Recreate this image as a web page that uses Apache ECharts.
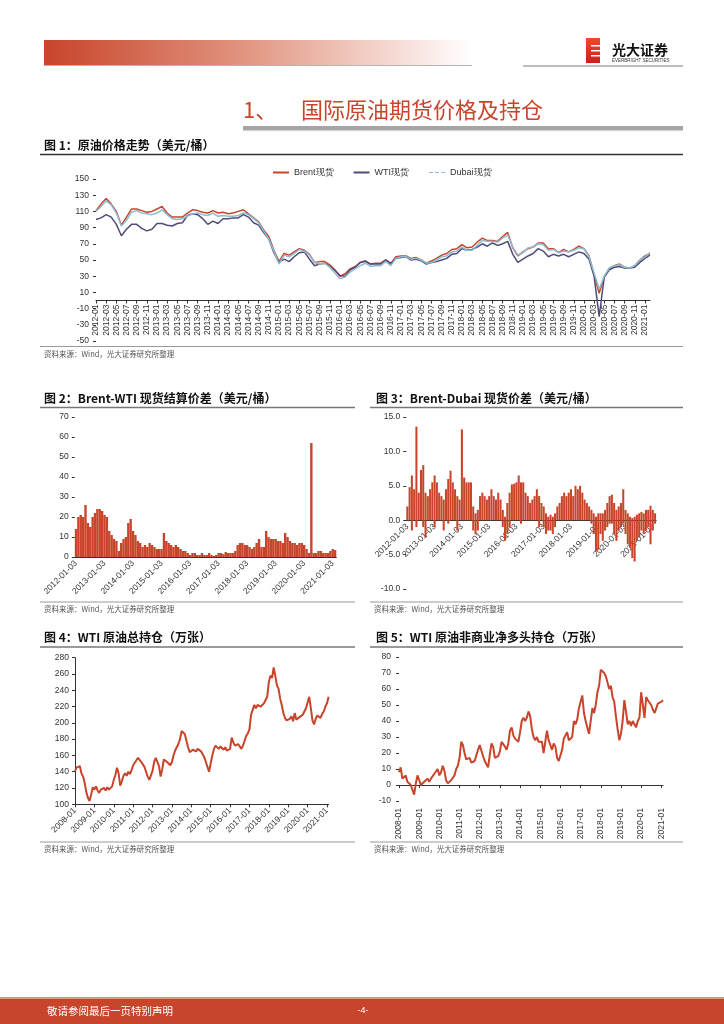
<!DOCTYPE html>
<html><head><meta charset="utf-8">
<script src="https://cdn.jsdelivr.net/npm/echarts@6/dist/echarts.min.js"></script>
<style>html,body{margin:0;padding:0;background:#fff;}#c{width:724px;height:1024px;}</style>
</head><body><div id="c"></div>
<script>
function monthRange(y0,m0,y1,m1){const r=[];let y=y0,m=m0;while(y<y1||(y===y1&&m<=m1)){r.push(y+'-'+String(m).padStart(2,'0'));m++;if(m>12){m=1;y++;}}return r;}

// ---------- Chart 1: oil prices (USD/bbl), monthly 2012-01..2021-02 ----------
const months1 = monthRange(2012,1,2021,2);
const brent = [
 111,119,126,119,110,93,103,113,113,111,109,110,
 113,116,108,103,103,103,108,112,111,109,108,111,
 108,109,107,108,110,112,107,102,97,87,79,62,
 48,58,56,60,64,62,57,47,48,48,44,38,
 30,33,39,42,47,48,45,46,46,50,45,54,
 55,55,52,53,50,46,49,52,56,58,63,64,
 69,65,66,72,77,74,74,73,79,84,65,55,
 60,64,66,71,71,64,64,59,63,60,63,67,
 64,55,32,9,29,40,43,45,41,40,43,50,
 55,58];
const wti = [
 100,102,106,103,94,80,88,94,94,89,86,88,
 95,95,93,92,95,96,105,107,106,101,94,98,
 95,101,101,102,102,106,103,96,93,84,76,59,
 47,51,48,54,59,60,51,43,45,46,42,37,
 31,30,38,41,47,49,45,45,45,50,46,52,
 53,54,50,51,49,45,47,48,50,52,57,58,
 64,62,63,66,70,67,71,68,70,73,57,47,
 51,55,58,64,61,54,57,55,57,54,57,60,
 58,51,30,-20,29,38,41,42,40,40,41,47,
 52,56];
const dubai = [
 110,116,123,118,108,92,99,109,111,108,107,106,
 108,112,106,101,100,101,104,107,108,106,105,108,
 104,105,104,104,105,108,106,101,96,86,76,61,
 45,56,54,58,63,61,56,47,45,46,41,34,
 27,29,35,39,43,46,42,43,43,48,43,52,
 54,54,51,52,50,46,47,50,54,55,60,61,
 66,62,62,68,74,73,73,72,77,81,66,56,
 59,65,66,70,69,62,63,59,61,60,62,65,
 64,54,34,14,30,40,43,44,41,40,43,50,
 54,59];

// ---------- Chart 2: Brent-WTI spread ----------
const bwPos = [
 14,20,21,20,26,17,15,20,22,24,24,23,
 21,20,13,11,9,8,3,7,9,10,17,19,
 13,11,8,7,5,6,5,7,6,5,4,4,
 4,12,8,7,6,5,6,5,4,3,3,2,
 1,2,2,1,1,2,1,1,2,1,0.5,1,
 2,2,1.5,2.5,2,2,2,3,6,7,7,6,
 6,5,4,5,7,9,5,5,13,10,9,9,
 9,8,8,7,12,10,8,7,7,6,7,7,
 6,4,2,57,2,2,3,3,2,2,2,3,
 4,3.5];
const bwNeg = [
 0,0,0,0,0,0,0,0,0,0,0,0,
 0,0,0,0,0,0,0,0,0,0,0,0,
 0,0,0,0,0,0,0,0,0,0,0,-2,
 0,0,0,0,0,0,0,0,0,0,-2,-1.5,
 -2,0,0,-0.5,-1.5,-1,0,0,0,-2,-1.5,0,
 0,0,0,0,0,0,0,0,0,0,0,0,
 0,0,0,0,0,0,0,0,0,0,0,0,
 0,0,0,0,0,0,0,0,0,0,0,0,
 0,0,0,-7,0,0,0,0,0,0,0,0,
 0,0];

// ---------- Chart 3: Brent-Dubai spread ----------
const bdPos = [
 2,4.8,6.5,4.5,13.6,4,7.3,8,4,3.5,4.5,5.5,
 6.5,5.5,4,3.5,3,4.5,6,7.2,5.5,4.5,3.5,3,
 13.2,6.2,5.5,5.5,5.5,2,1,1.5,3.5,4,3.5,3,
 3.5,4.5,3.5,3,4,3,1.5,0.5,2.5,4,5.2,5.3,
 5.5,6.5,5.5,5.5,4,3.5,2.5,3,3.5,4.5,3.5,2.5,
 2,1,0.5,0.8,0.5,1,2,2.5,3.5,4,3.5,4,
 4.5,3.5,5,4.5,5,4,3,2.5,2,1.5,1,0.5,
 1,1,1,1.5,2.5,3.5,3.7,2.5,1.5,2,2.5,4.5,
 1.5,1,0.5,0.3,0.5,0.8,1,1.2,1,1.5,1.5,2.1,
 1.5,1];
const bdNeg = [
 0,0,-1.5,0,-1,0,0,-1,-2.5,0,0,0,
 -1,0,0,0,-1.5,0,-0.5,0,0,0,-1.5,0,
 0,0,0,0,0,-1.5,-2,-1.5,0,0,0,0,
 0,0,0,0,0,0,-1,-3,-2,-1,0,0,
 0,0,-0.5,0,0,0,0,0,0,0,-1,0,
 -1,-2,-1.5,-1.5,-2,-1,0,0,0,0,0,0,
 0,0,0,0,0,0,0,0,0,-0.5,-2,-4.5,
 -4.3,-2,-3,-1.5,-1,-0.5,-0.5,-2,-3,-1.5,-1,-0.5,
 -2,-3.5,-4,-5.5,-6,-3,-2.5,-1.5,-2,-1.5,-1,-3.5,
 -1.5,-0.5];

// ---------- Chart 4: WTI total open interest (10k contracts), 2008-01..2021-02 ----------
const months2 = monthRange(2008,1,2021,2);
const wtiOI = [
 141,145,143,147,138,134,126,115,108,104,112,121,
 118,122,117,114,118,116,120,117,121,118,119,122,
 130,136,145,138,123,128,135,138,135,140,137,142,
 148,150,154,157,155,152,151,146,140,134,130,132,
 141,152,157,155,147,134,143,155,157,152,150,148,
 152,160,166,170,174,180,190,192,186,178,170,164,
 163,167,166,165,168,166,165,163,158,152,146,140,
 142,160,168,172,170,168,171,169,167,170,166,164,
 168,182,176,172,170,174,172,168,172,178,184,187,
 192,210,216,222,218,222,223,220,222,224,226,232,
 250,258,255,268,258,246,242,230,222,212,206,203,
 201,205,208,202,212,204,206,207,205,210,214,218,
 220,232,218,203,198,205,209,207,206,211,214,220,
 224,232];

// ---------- Chart 5: WTI non-commercial net long (10k contracts) ----------
const wtiNet = [
 8,11,4,3,6,2,1,0,-1,-6,1,6,
 5,0,-1,2,3,4,2,4,5,7,6,10,
 6,8,12,9,3,1,2,3,2,6,10,12,
 17,27,25,20,16,15,17,14,13,15,16,22,
 25,24,18,15,13,11,19,26,24,17,16,18,
 21,27,26,24,22,26,34,36,31,29,30,27,
 33,40,42,40,42,46,43,35,30,28,30,27,
 28,27,20,27,34,28,25,22,26,24,17,15,
 16,22,29,30,33,28,27,30,40,38,41,48,
 52,56,45,40,36,32,40,48,45,50,58,62,
 72,73,70,68,64,60,62,55,52,43,35,28,
 32,40,53,46,38,40,37,40,38,36,40,42,
 58,50,42,55,53,54,50,47,45,46,51,52,
 52,53];

const RED = '#c8442a', WTIC = '#4e4c7c', DUBC = '#8cbcd0';
const LAT = '"Liberation Sans", Arial, sans-serif';
const CJK = '"Noto Sans CJK SC", sans-serif';
const SRC = '资料来源：Wind，光大证券研究所整理';
const lbl = {fontSize: 8.5, color: '#333', fontFamily: LAT};
const hideSplit = {show:false};

function txt(x,y,t,font,fill,align){return {type:'text',x:x,y:y,silent:true,style:{text:t,font:font,fill:fill||'#000',textAlign:align||'left',textVerticalAlign:'middle'}};}
function ln(x1,y1,x2,y2,c,w){return {type:'line',silent:true,shape:{x1:x1,y1:y1,x2:x2,y2:y2},style:{stroke:c,lineWidth:w}};}
function rc(x,y,w,h,fill){return {type:'rect',silent:true,shape:{x:x,y:y,width:w,height:h},style:{fill:fill}};}

const graphic = [
 rc(44,40,428,25,{type:'linear',x:0,y:0,x2:1,y2:0,colorStops:[{offset:0,color:'#c8442a'},{offset:0.45,color:'#e0917c'},{offset:1,color:'#ffffff'}]}),
 ln(44,65.5,472,65.5,'#b5b5b5',1),
 ln(523,66,683,66,'#7a7a7a',1.2),
 rc(586,38,14,25,{type:'linear',x:0,y:0,x2:0,y2:1,colorStops:[{offset:0,color:'#ee4a2a'},{offset:1,color:'#c8201e'}]}),
 rc(591,45,9,1.5,'#fff'), rc(591,50,9,1.5,'#fff'), rc(591,55,9,1.5,'#fff'),
 txt(612,50,'光大证券','bold 14px '+CJK,'#111'),
 txt(612,60.5,'EVERBRIGHT SECURITIES','4.5px '+LAT,'#333'),
 txt(243,110,'1、','22px '+CJK,RED),
 txt(301,110,'国际原油期货价格及持仓','22px '+CJK,RED),
 rc(243,126,440,4,'#a5a5a5'), rc(243,130,440,1.2,'#d5d5d5'),
 txt(44,145,'图 1：原油价格走势（美元/桶）','bold 12px '+CJK,'#111'),
 ln(40,154.5,683,154.5,'#333',1.5),
 ln(40,346.5,683,346.5,'#999',1.2),
 txt(44,354,SRC,'7.5px '+CJK,'#555'),
 txt(44,398,'图 2：Brent-WTI 现货结算价差（美元/桶）','bold 12px '+CJK,'#111'),
 ln(40,407.5,355,407.5,'#777',1.5),
 txt(376,398,'图 3：Brent-Dubai 现货价差（美元/桶）','bold 12px '+CJK,'#111'),
 ln(370,407.5,683,407.5,'#777',1.5),
 ln(40,602,355,602,'#999',1.2), ln(370,602,683,602,'#999',1.2),
 txt(44,609,SRC,'7.5px '+CJK,'#555'), txt(374,609,SRC,'7.5px '+CJK,'#555'),
 txt(44,637,'图 4：WTI 原油总持仓（万张）','bold 12px '+CJK,'#111'),
 ln(40,647,355,647,'#777',1.5),
 txt(376,637,'图 5：WTI 原油非商业净多头持仓（万张）','bold 12px '+CJK,'#111'),
 ln(370,647,683,647,'#777',1.5),
 ln(40,842,355,842,'#999',1.2), ln(370,842,683,842,'#999',1.2),
 txt(44,849,SRC,'7.5px '+CJK,'#555'), txt(374,849,SRC,'7.5px '+CJK,'#555'),
 rc(0,997,724,2,'#e3937d'),
 rc(0,999,724,25,RED),
 txt(47,1011,'敬请参阅最后一页特别声明','10.5px '+CJK,'#fff'),
 txt(363,1011,'-4-','9px '+LAT,'#fff','center')
];

const every12 = function(i){return i % 12 === 0;};
const DASH_ICON = 'path://M0,0H4V1H0Z M6,0H10V1H6Z M12,0H16V1H12Z';

const option = {
 animation:false,
 backgroundColor:'#fff',
 graphic: graphic,
 legend:{left:268, top:163, itemWidth:16, itemHeight:2, itemGap:20,
   textStyle:{fontSize:9, color:'#333', fontFamily:LAT},
   data:[{name:'Brent现货', icon:'rect'},{name:'WTI现货', icon:'rect'},{name:'Dubai现货', icon:DASH_ICON}]},
 grid:[
  {left:96, top:179, width:554, height:162},
  {left:74.8, top:417, width:261.5, height:140},
  {left:406.2, top:417, width:250, height:172},
  {left:75, top:657.7, width:253.6, height:146.6},
  {left:399, top:657, width:264, height:144}
 ],
 xAxis:[
  {gridIndex:0, type:'category', data:months1, boundaryGap:false, offset:-40.5,
   axisLine:{onZero:false, lineStyle:{color:'#333', width:1}},
   axisTick:{interval:1, length:3, lineStyle:{color:'#333'}},
   axisLabel:Object.assign({interval:1, rotate:90, margin:4},lbl)},
  {gridIndex:1, type:'category', data:months1, boundaryGap:true,
   axisLine:{lineStyle:{color:'#333'}},
   axisTick:{interval:every12, alignWithLabel:true, length:3, lineStyle:{color:'#333'}},
   axisLabel:Object.assign({interval:every12, rotate:45, margin:5, formatter:function(v){return v+'-03';}},lbl)},
  {gridIndex:2, type:'category', data:months1, boundaryGap:true, offset:-68.8,
   axisLine:{onZero:false, lineStyle:{color:'#333'}},
   axisTick:{interval:every12, alignWithLabel:true, length:3, lineStyle:{color:'#333'}},
   axisLabel:Object.assign({interval:every12, rotate:45, margin:5, formatter:function(v){return v+'-03';}},lbl)},
  {gridIndex:3, type:'category', data:months2, boundaryGap:false,
   axisLine:{lineStyle:{color:'#333'}},
   axisTick:{interval:every12, length:3, lineStyle:{color:'#333'}},
   axisLabel:Object.assign({interval:every12, rotate:45, margin:5},lbl)},
  {gridIndex:4, type:'category', data:months2, boundaryGap:false,
   axisLine:{onZero:true, lineStyle:{color:'#333'}},
   axisTick:{interval:every12, length:3, lineStyle:{color:'#333'}},
   axisLabel:Object.assign({interval:every12, rotate:90, margin:7},lbl)}
 ],
 yAxis:[
  {gridIndex:0, type:'value', min:-50, max:150, interval:20, splitLine:hideSplit,
   axisLine:{show:false}, axisTick:{show:true, length:3, lineStyle:{color:'#333'}},
   axisLabel:Object.assign({margin:7},lbl)},
  {gridIndex:1, type:'value', min:0, max:70, interval:10, splitLine:hideSplit,
   axisLine:{show:false}, axisTick:{show:true, length:3, lineStyle:{color:'#333'}},
   axisLabel:Object.assign({margin:6},lbl)},
  {gridIndex:2, type:'value', min:-10, max:15, interval:5, splitLine:hideSplit,
   axisLine:{show:false}, axisTick:{show:true, length:3, lineStyle:{color:'#333'}},
   axisLabel:Object.assign({margin:6, formatter:function(v){return v.toFixed(1);}},lbl)},
  {gridIndex:3, type:'value', min:100, max:280, interval:20, splitLine:hideSplit,
   axisLine:{show:true, lineStyle:{color:'#333'}}, axisTick:{show:true, length:3, lineStyle:{color:'#333'}},
   axisLabel:Object.assign({margin:6},lbl)},
  {gridIndex:4, type:'value', min:-10, max:80, interval:10, splitLine:hideSplit,
   axisLine:{show:false}, axisTick:{show:true, length:3, lineStyle:{color:'#333'}},
   axisLabel:Object.assign({margin:8},lbl)}
 ],
 series:[
  {name:'Brent现货', type:'line', xAxisIndex:0, yAxisIndex:0, data:brent, symbol:'none', color:RED, lineStyle:{width:1.5, color:RED}},
  {name:'WTI现货', type:'line', xAxisIndex:0, yAxisIndex:0, data:wti, symbol:'none', color:WTIC, lineStyle:{width:1.5, color:WTIC}},
  {name:'Dubai现货', type:'line', xAxisIndex:0, yAxisIndex:0, data:dubai, symbol:'none', color:DUBC, lineStyle:{width:1.5, color:DUBC}},
  {name:'bw+', type:'bar', xAxisIndex:1, yAxisIndex:1, data:bwPos, barCategoryGap:'0%', itemStyle:{color:RED}},
  {name:'bw-', type:'bar', xAxisIndex:1, yAxisIndex:1, data:bwNeg, barGap:'-100%', barCategoryGap:'0%', itemStyle:{color:RED}},
  {name:'bd+', type:'bar', xAxisIndex:2, yAxisIndex:2, data:bdPos, barCategoryGap:'10%', itemStyle:{color:RED}},
  {name:'bd-', type:'bar', xAxisIndex:2, yAxisIndex:2, data:bdNeg, barGap:'-100%', barCategoryGap:'10%', itemStyle:{color:RED}},
  {name:'WTI总持仓', type:'line', xAxisIndex:3, yAxisIndex:3, data:wtiOI, symbol:'none', lineStyle:{width:2, color:RED}},
  {name:'WTI净多头', type:'line', xAxisIndex:4, yAxisIndex:4, data:wtiNet, symbol:'none', lineStyle:{width:2, color:RED}}
 ]
};
const chart = echarts.init(document.getElementById('c'), null, {renderer:'canvas'});
chart.setOption(option);
</script></body></html>
